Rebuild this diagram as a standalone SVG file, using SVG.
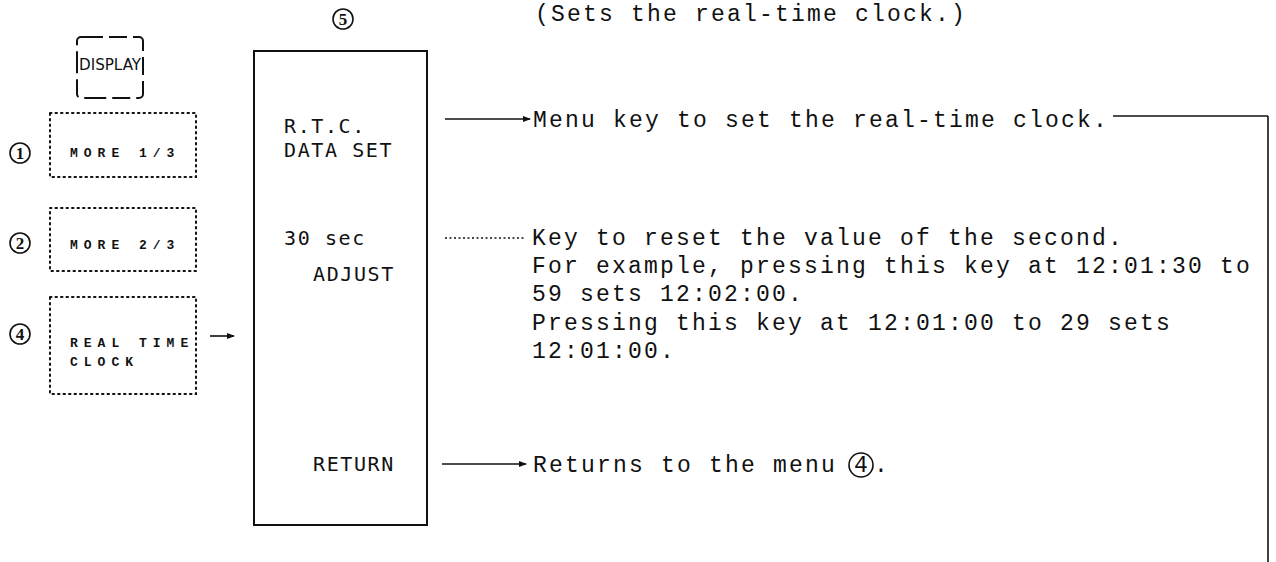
<svg xmlns="http://www.w3.org/2000/svg" width="1276" height="562" viewBox="0 0 1276 562">
<defs>
<style>
.mono{font-family:"Liberation Mono","Courier New",monospace;font-size:23px;letter-spacing:2.2px;fill:#111}
.key{font-family:"DejaVu Sans Mono","Liberation Mono",monospace;font-size:20px;letter-spacing:1.6px;fill:#111}
.small{font-family:"Liberation Mono",monospace;font-size:13px;font-weight:bold;letter-spacing:6px;fill:#111}
.dot{fill:none;stroke:#111;stroke-width:2;stroke-dasharray:1.5 4;stroke-linecap:round}
.line{fill:none;stroke:#111;stroke-width:1.6}
.circ{fill:none;stroke:#111;stroke-width:1.6}
.num{font-family:"Liberation Serif","Times New Roman",serif;font-size:17px;font-weight:bold;fill:#111;text-anchor:middle}
</style>
<marker id="ah" markerWidth="8" markerHeight="6" refX="7" refY="3" orient="auto" markerUnits="userSpaceOnUse">
<path d="M0,0 L8,3 L0,6 Z" fill="#111"/>
</marker>
</defs>
<rect width="1276" height="562" fill="#fff"/>

<g id="display-key">
<rect x="77" y="37" width="66" height="61" rx="4" fill="none" stroke="#111" stroke-width="2" stroke-dasharray="22 6 18 6"/>
<text x="79" y="70" font-family="DejaVu Sans Condensed,DejaVu Sans,sans-serif" font-size="15" fill="#111" textLength="62" lengthAdjust="spacingAndGlyphs">DISPLAY</text>
</g>

<g id="menu1">
<circle class="circ" cx="20" cy="153" r="10"/>
<text class="num" x="20" y="159">1</text>
<rect class="dot" x="50" y="113" width="146" height="64"/>
<text class="small" x="70" y="157">MORE 1/3</text>
</g>

<g id="menu2">
<circle class="circ" cx="20" cy="243" r="10"/>
<text class="num" x="20" y="249">2</text>
<rect class="dot" x="50" y="208" width="146" height="63"/>
<text class="small" x="70" y="249">MORE 2/3</text>
</g>

<g id="menu4">
<circle class="circ" cx="20" cy="334" r="10"/>
<text class="num" x="20" y="340">4</text>
<rect class="dot" x="50" y="297" width="146" height="97"/>
<text class="small" x="70" y="347">REAL TIME</text>
<text class="small" x="70" y="366">CLOCK</text>
</g>

<g id="menu5">
<circle class="circ" cx="343" cy="19" r="10"/>
<text class="num" x="343" y="25">5</text>
<rect x="254" y="51" width="173" height="474" fill="none" stroke="#111" stroke-width="2"/>
<text class="key" x="284" y="133">R.T.C.</text>
<text class="key" x="284" y="157">DATA SET</text>
<text class="key" x="284" y="245">30 sec</text>
<text class="key" x="313" y="281">ADJUST</text>
<text class="key" x="313" y="471">RETURN</text>
</g>

<g id="notes">
<text class="mono" x="535" y="21">(Sets the real-time clock.)</text>
<text class="mono" x="533" y="127">Menu key to set the real-time clock.</text>
<text class="mono" x="532" y="245">Key to reset the value of the second.</text>
<text class="mono" x="532" y="273">For example, pressing this key at 12:01:30 to</text>
<text class="mono" x="532" y="301">59 sets 12:02:00.</text>
<text class="mono" x="532" y="330">Pressing this key at 12:01:00 to 29 sets</text>
<text class="mono" x="532" y="358">12:01:00.</text>
<text class="mono" x="533" y="472">Returns to the menu</text>
<circle class="circ" cx="861" cy="465" r="12"/>
<text class="mono" x="854" y="472">4</text>
<text class="mono" x="874" y="472">.</text>
</g>

<g id="connectors">
<line class="line" x1="445" y1="119" x2="530" y2="119" marker-end="url(#ah)"/>
<line class="line" x1="1113" y1="116" x2="1268" y2="116"/>
<line class="line" x1="1268" y1="116" x2="1268" y2="562"/>
<line x1="445" y1="238" x2="525" y2="238" stroke="#111" stroke-width="1.6" stroke-dasharray="2 2.5"/>
<line class="line" x1="210" y1="336" x2="234" y2="336" marker-end="url(#ah)"/>
<line class="line" x1="442" y1="464" x2="526" y2="464" marker-end="url(#ah)"/>
</g>
</svg>
